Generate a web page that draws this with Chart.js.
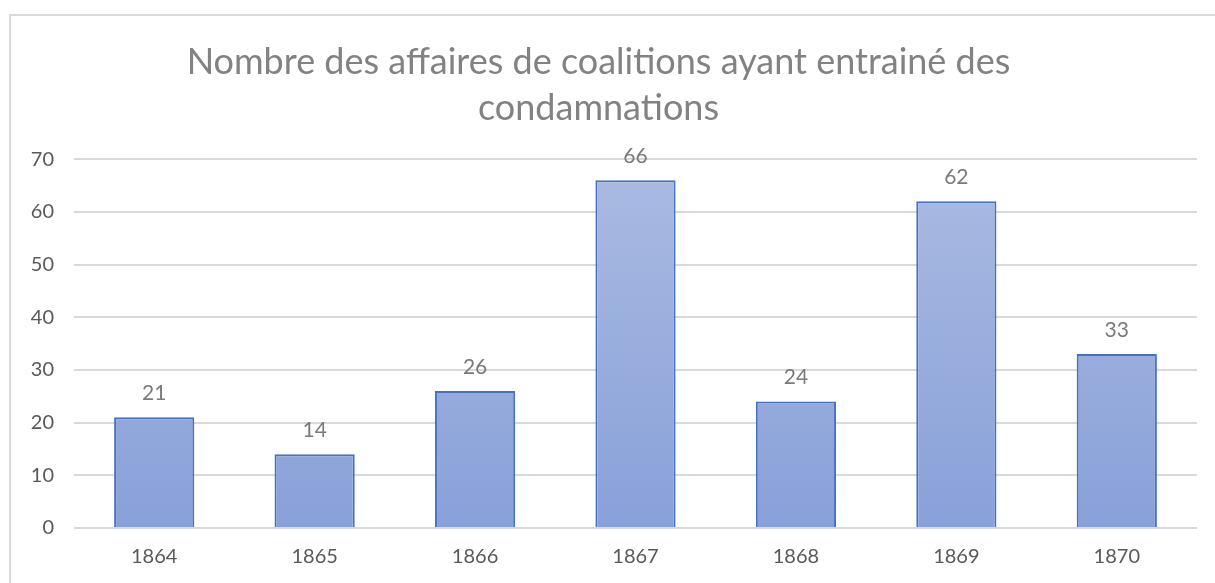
<!DOCTYPE html>
<html>
<head>
<meta charset="utf-8">
<script src="https://cdn.jsdelivr.net/npm/chart.js@4"></script>
<style>
  html, body { margin: 0; padding: 0; background: #fff; }
  #wrap { position: relative; width: 1215px; height: 583px; overflow: hidden; }
  #frame { position: absolute; left: 9px; top: 14px; width: 1230px; height: 600px; border: 2px solid #d9d9d9; box-sizing: border-box; }
  canvas { position: absolute; left: 0; top: 0; }
</style>
</head>
<body>
<div id="wrap">
  <div id="frame"></div>
  <canvas id="chart" width="1215" height="583"></canvas>
</div>
<script>
const years = ["1864", "1865", "1866", "1867", "1868", "1869", "1870"];
const affaires = [21, 14, 26, 66, 24, 62, 33];
const yTicks = [0, 10, 20, 30, 40, 50, 60, 70];
const titleLines = ["Nombre des affaires de coalitions ayant entrainé des", "condamnations"];

const FONT = "Lato, 'Open Sans', sans-serif";

// étiquettes de valeurs au-dessus des barres
const valueLabels = {
  id: "valueLabels",
  afterDatasetsDraw(chart) {
    const ctx = chart.ctx;
    const meta = chart.getDatasetMeta(0);
    ctx.save();
    ctx.font = "21px " + FONT;
    ctx.fillStyle = "#7a7a7a";
    ctx.textAlign = "center";
    ctx.textBaseline = "middle";
    meta.data.forEach((bar, i) => {
      ctx.fillText(String(affaires[i]), bar.x, bar.y - 24);
    });
    ctx.restore();
  },
};

function barGradient(context) {
  const area = context.chart.chartArea;
  if (!area) return "#9aaedc";
  const g = context.chart.ctx.createLinearGradient(0, area.top, 0, area.bottom);
  g.addColorStop(0, "#abbbe2");
  g.addColorStop(1, "#88a1d9");
  return g;
}

new Chart(document.getElementById("chart"), {
  type: "bar",
  data: {
    labels: years,
    datasets: [{
      data: affaires,
      backgroundColor: barGradient,
      borderColor: "#4472c4",
      borderWidth: 2,
      barPercentage: 0.5,
      categoryPercentage: 1,
    }],
  },
  options: {
    responsive: false,
    animation: false,
    layout: { padding: { left: 0, right: 18, top: 0, bottom: 0 } },
    plugins: {
      legend: { display: false },
      tooltip: { enabled: false },
      title: {
        display: true,
        text: titleLines,
        color: "#828282",
        font: { family: FONT, size: 36, weight: "normal", lineHeight: 1.28 },
        padding: { top: 39, bottom: 28 },
      },
    },
    scales: {
      x: {
        grid: { display: false },
        border: { display: false },
        ticks: { color: "#595959", font: { family: FONT, size: 20 }, padding: 9 },
        afterFit(scale) { scale.height = 55; },
      },
      y: {
        min: 0,
        max: 70,
        afterBuildTicks(scale) { scale.ticks = yTicks.map(v => ({ value: v })); },
        grid: { color: "#d9d9d9", lineWidth: 2, drawTicks: false },
        border: { display: false },
        ticks: { color: "#595959", font: { family: FONT, size: 20 }, padding: 20 },
        afterFit(scale) { scale.width = 74; },
      },
    },
  },
  plugins: [valueLabels],
});
</script>
</body>
</html>
